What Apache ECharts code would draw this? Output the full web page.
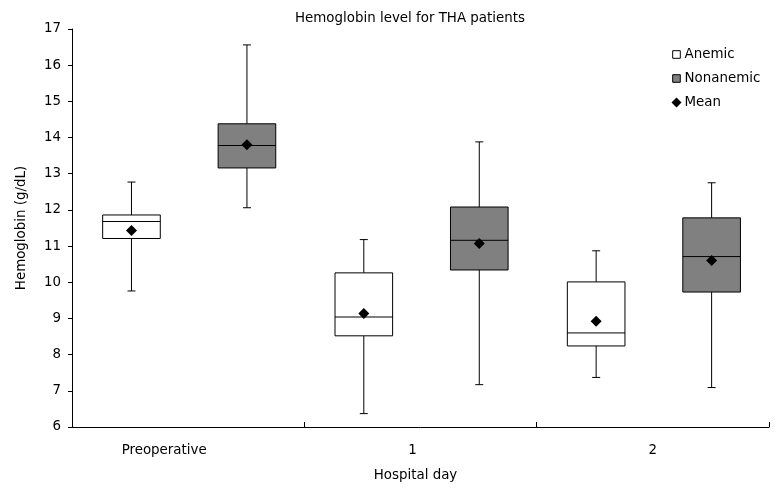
<!DOCTYPE html>
<html>
<head>
<meta charset="utf-8">
<script src="https://cdn.jsdelivr.net/npm/echarts@6/dist/echarts.min.js"></script>
<style>
  html, body { margin: 0; padding: 0; background: #fff; }
  #chart { width: 783px; height: 495px; }
</style>
</head>
<body>
<div id="chart"></div>
<script>
// hospital day categories
var days = ['Preoperative', '1', '2'];

// [min, q1, median, q3, max] per day
var anemicBox = [
  [9.76, 11.21, 11.68, 11.86, 12.77],
  [6.37, 8.52, 9.04, 10.26, 11.18],
  [7.37, 8.24, 8.60, 10.01, 10.87]
];
var nonanemicBox = [
  [12.06, 13.16, 13.78, 14.38, 16.56],
  [7.17, 10.34, 11.16, 12.08, 13.88],
  [7.09, 9.73, 10.71, 11.78, 12.75]
];

// means
var anemicMean = [11.43, 9.14, 8.92];
var nonanemicMean = [13.80, 11.07, 10.60];

var boxRatio = 0.248;   // box width as share of category band
var capHalf = 4;

function boxItems(rows) {
  return rows.map(function (r, i) { return [i].concat(r); });
}
function meanItems(vals) {
  return vals.map(function (v, i) { return [i, v]; });
}

function renderBox(offset, fill) {
  return function (params, api) {
    var cat = api.value(0);
    var band = api.size([1, 0])[0];
    var cx = api.coord([cat, 0])[0] + offset * band;
    var half = band * boxRatio / 2;
    var yMin = api.coord([cat, api.value(1)])[1];
    var yQ1 = api.coord([cat, api.value(2)])[1];
    var yMed = api.coord([cat, api.value(3)])[1];
    var yQ3 = api.coord([cat, api.value(4)])[1];
    var yMax = api.coord([cat, api.value(5)])[1];
    var ls = { stroke: '#000', lineWidth: 1 };
    return {
      type: 'group',
      children: [
        { type: 'line', shape: { x1: cx, y1: yMax, x2: cx, y2: yQ3 }, style: ls },
        { type: 'line', shape: { x1: cx, y1: yQ1, x2: cx, y2: yMin }, style: ls },
        { type: 'line', shape: { x1: cx - capHalf, y1: yMax, x2: cx + capHalf, y2: yMax }, style: ls },
        { type: 'line', shape: { x1: cx - capHalf, y1: yMin, x2: cx + capHalf, y2: yMin }, style: ls },
        { type: 'rect', shape: { x: cx - half, y: yQ3, width: half * 2, height: yQ1 - yQ3 },
          style: { fill: fill, stroke: '#000', lineWidth: 1 } },
        { type: 'line', shape: { x1: cx - half, y1: yMed, x2: cx + half, y2: yMed }, style: ls }
      ]
    };
  };
}

function renderMean(offset) {
  return function (params, api) {
    var cat = api.value(0);
    var band = api.size([1, 0])[0];
    var p = api.coord([cat, api.value(1)]);
    var cx = p[0] + offset * band, cy = p[1], r = 5.5;
    return {
      type: 'polygon',
      shape: { points: [[cx, cy - r], [cx + r, cy], [cx, cy + r], [cx - r, cy]] },
      style: { fill: '#000' }
    };
  };
}

var font = 'DejaVu Sans';
var fs = 13.4;
// small square inside a 10x10 box so it sits smaller than the diamond
var squareIcon = 'path://M0,0M10,10M1.2,1.2h7.6v7.6h-7.6z';
var chart = echarts.init(document.getElementById('chart'));

var option = {
  animation: false,
  backgroundColor: '#fff',
  title: {
    text: 'Hemoglobin level for THA patients',
    left: 290,
    top: 7,
    textStyle: { fontFamily: font, fontSize: fs, fontWeight: 'normal', color: '#000' }
  },
  legend: {
    orient: 'vertical',
    left: 666,
    top: 43,
    itemWidth: 10,
    itemHeight: 10,
    itemGap: 11,
    textStyle: { fontFamily: font, fontSize: fs, color: '#000', padding: [0, 0, 0, -2] },
    data: [
      { name: 'Anemic', icon: squareIcon, itemStyle: { color: '#fff', borderColor: '#000', borderWidth: 1 } },
      { name: 'Nonanemic', icon: squareIcon, itemStyle: { color: '#808080', borderColor: '#000', borderWidth: 1 } },
      { name: 'Mean', icon: 'diamond', itemStyle: { color: '#000' } }
    ]
  },
  grid: { left: 72, right: 14, top: 29, bottom: 68 },
  xAxis: {
    type: 'category',
    data: days,
    name: 'Hospital day',
    nameLocation: 'middle',
    nameGap: 42,
    nameTextStyle: { fontFamily: font, fontSize: fs, color: '#000', padding: [0, 0, 0, -10] },
    axisLine: { lineStyle: { color: '#000', width: 1 } },
    axisTick: { show: true, inside: true, alignWithLabel: false, length: 5, lineStyle: { color: '#000', width: 1 } },
    axisLabel: {
      margin: 17,
      fontFamily: font,
      fontSize: fs,
      color: '#000',
      formatter: function (v) {
        if (v === 'Preoperative') return '{p|' + v + '}';
        if (v === '1') return '{d|' + v + '}';
        return v;
      },
      rich: {
        p: { fontFamily: font, fontSize: fs, color: '#000', padding: [0, 48, 0, 0] },
        d: { fontFamily: font, fontSize: fs, color: '#000', padding: [0, 16, 0, 0] }
      }
    }
  },
  yAxis: {
    type: 'value',
    min: 6,
    max: 17,
    interval: 1,
    name: 'Hemoglobin (g/dL)',
    nameLocation: 'middle',
    nameGap: 44,
    nameTextStyle: { fontFamily: font, fontSize: fs, color: '#000' },
    axisLine: { show: true, lineStyle: { color: '#000', width: 1 } },
    axisTick: { show: true, length: 4, lineStyle: { color: '#000' } },
    axisLabel: { margin: 11, fontFamily: font, fontSize: fs, color: '#000' },
    splitLine: { show: false }
  },
  series: [
    {
      name: 'Anemic',
      type: 'custom',
      renderItem: renderBox(-0.244, '#fff'),
      encode: { x: 0, y: [1, 2, 3, 4, 5] },
      itemStyle: { color: '#fff' },
      data: boxItems(anemicBox)
    },
    {
      name: 'Nonanemic',
      type: 'custom',
      renderItem: renderBox(0.253, '#808080'),
      encode: { x: 0, y: [1, 2, 3, 4, 5] },
      itemStyle: { color: '#808080' },
      data: boxItems(nonanemicBox)
    },
    {
      name: 'Mean',
      type: 'custom',
      renderItem: renderMean(-0.244),
      encode: { x: 0, y: 1 },
      itemStyle: { color: '#000' },
      data: meanItems(anemicMean)
    },
    {
      name: 'Mean',
      type: 'custom',
      renderItem: renderMean(0.253),
      encode: { x: 0, y: 1 },
      itemStyle: { color: '#000' },
      data: meanItems(nonanemicMean)
    }
  ]
};

chart.setOption(option);
window.addEventListener('resize', function () {
  chart.resize();
});
</script>
</body>
</html>
